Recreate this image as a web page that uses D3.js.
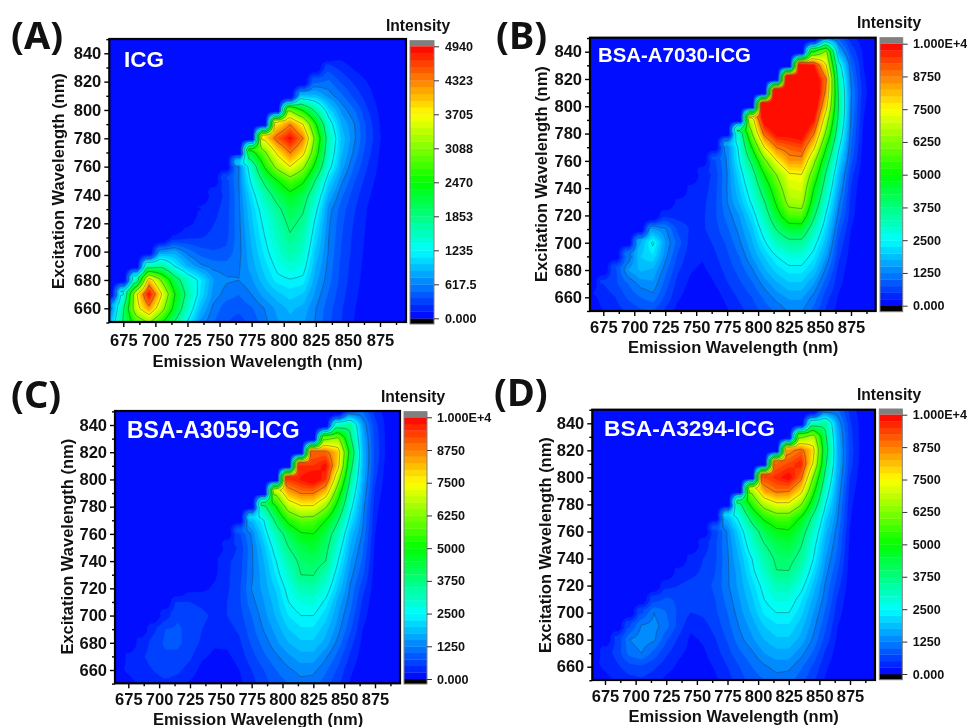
<!DOCTYPE html>
<html><head><meta charset="utf-8">
<script src="https://cdn.jsdelivr.net/npm/d3@7"></script>
<style>html,body{margin:0;background:#fff}svg{display:block;filter:blur(0.35px)}text{font-family:"Liberation Sans",Arial,sans-serif;font-weight:bold;fill:#111}</style>
</head><body><svg id="c" width="967" height="727"></svg>
<script>
// Emission columns run 665..895 by 10, excitation rows run 850 down to 650 by 10.
// Each row: first emission wavelength measured, then its intensities; the rest of the row reads 0.
const rowsA = [
[855,0],[845,40],
[835,300,200,100,40],
[825,450,520,350,220,120,40],
[815,900,900,680,520,330,180,60],
[805,3000,2400,1700,1050,700,500,260,90,20],
[795,3800,4300,3700,2500,1400,850,620,330,120,30],
[785,3800,4500,4900,4320,2900,1600,950,640,350,130,30],
[775,2300,3000,3800,4350,3850,2700,1500,900,580,300,110],
[765,600,1500,2500,3250,3700,3200,2300,1350,800,480,250,90],
[755,300,620,1300,1950,2450,2850,2550,1800,1050,650,380,190,70],
[745,150,280,600,1100,1600,2050,2350,2100,1500,850,520,300,150,50],
[735,120,200,300,590,1000,1400,1750,2100,1900,1300,680,430,260,120,40],
[725,90,160,240,310,580,950,1300,1600,1950,1750,1150,640,400,230,110,30],
[715,130,220,240,280,330,570,900,1220,1520,1800,1600,1050,620,380,210,100,30],
[705,700,800,560,420,380,400,570,850,1150,1420,1650,1480,950,600,360,200,90,25],
[695,1500,1700,1200,850,650,560,540,600,800,1050,1300,1450,1350,860,570,340,180,80,20],
[685,1400,4000,3000,2100,1500,1150,750,640,620,720,950,1170,1220,1180,780,540,320,170,70,15],
[675,1200,3600,4900,3700,2500,1700,1100,700,560,500,620,800,950,1050,980,700,480,290,150,60],
[665,550,1800,3500,4200,3300,2300,1500,900,580,420,400,480,620,780,900,820,620,420,260,130,50],
[665,900,1900,2700,3100,2500,1800,1200,700,500,380,320,400,580,720,820,760,600,400,250,120,40]
];
const rowsB = [
[855,1000,900,350,100],
[845,5000,6500,1700,700,200],
[835,10000,9800,7500,2800,1000,250],
[825,10500,10500,10500,8800,3300,1200,300],
[815,10500,10800,11000,10900,8500,3600,1300,350],
[805,10500,11000,11000,11000,10500,7800,3700,1250,300],
[795,7000,10200,10800,10800,10900,9800,6800,3500,1200,250],
[785,3000,6200,9000,10000,10000,10200,8800,6000,3100,1100,200],
[775,1300,2700,5000,7500,8800,9100,9300,7700,5000,2600,1000,150],
[765,700,1300,2500,4000,6000,7500,8500,8500,6500,4200,2200,850,100],
[755,300,600,1250,2200,3300,5000,6300,7400,7500,5700,3600,1850,600,50],
[745,250,350,650,1260,2000,2900,4300,5700,7000,7100,5000,3200,1600,480],
[735,250,350,420,680,1240,1800,2600,3700,5200,6600,6700,4500,2800,1350,400],
[725,400,380,400,450,700,1100,1500,2200,3200,4600,5700,5800,3900,2400,1150,350],
[715,1500,1300,700,480,450,650,950,1350,1900,2800,3800,4500,4500,3200,2100,900,250],
[705,1700,2600,1500,900,420,350,550,800,1200,1700,2400,3100,3500,3500,2700,1800,700,180],
[695,1000,2000,2200,1350,700,350,280,450,700,1000,1500,2000,2500,2800,2800,2300,1500,550,130],
[685,700,1500,1800,1700,1100,550,280,200,350,600,850,1200,1700,2100,2350,2350,1950,1150,400,100],
[675,500,700,1000,1350,1450,900,400,200,80,250,480,700,950,1350,1700,1950,1950,1500,850,320,70],
[665,150,350,500,800,1000,1150,700,300,120,50,120,330,550,750,1050,1350,1550,1550,1150,600,220,40],
[665,100,250,380,550,700,750,450,150,40,30,60,220,420,600,850,1050,1280,1280,900,450,150,20]
];
const rowsC = [
[855,700,1000,400,100],
[845,3000,3500,1500,600,150],
[835,6000,6500,3900,1700,650,150],
[825,9000,9000,8000,4600,1800,700,150],
[815,9500,9500,9900,7800,4100,1800,650,100],
[805,9500,9800,10200,9500,6600,3600,1700,550,80],
[795,6500,8300,8800,8800,8000,5500,3100,1550,450,50],
[785,3500,5000,6800,7400,7400,6400,4600,2700,1400,350],
[775,1800,2500,4000,5300,5900,5800,5000,3800,2300,1300,300],
[765,700,1300,2200,3200,4200,4900,5000,4300,3200,1900,1200,250],
[755,300,550,1200,1900,2800,3750,4300,4500,4000,2800,1700,1050,200],
[745,180,450,600,1200,1750,2500,3300,3950,4100,3750,2500,1500,950,150],
[735,120,200,450,650,1200,1650,2300,3000,3750,3780,3200,2200,1350,800,120],
[725,150,180,300,450,700,1260,1600,2050,2700,3200,3300,2800,1950,1200,600,100],
[715,500,500,450,400,500,700,1150,1500,1900,2500,2800,2850,2400,1650,1100,450,70],
[705,350,700,600,550,450,500,650,1000,1400,1800,2250,2500,2500,2100,1500,950,350,50],
[695,400,750,800,650,500,400,400,550,900,1280,1600,2000,2200,2200,1850,1350,800,250,30],
[685,300,600,800,800,650,450,300,300,450,800,1100,1450,1750,1950,1950,1650,1150,600,180,20],
[675,250,450,600,700,700,550,300,180,200,350,650,950,1200,1450,1650,1650,1300,900,450,120],
[665,150,300,400,500,600,550,400,150,50,100,250,500,750,1000,1200,1350,1320,1050,700,300,80],
[665,100,150,300,400,450,400,200,100,60,60,180,400,650,850,1000,1150,1120,850,550,220,50]
];
const rowsD = [
[855,700,1000,400,100],
[845,3000,3500,1500,550,120],
[835,6000,6800,3900,1700,600,120],
[825,8500,9000,7800,4200,1750,650,120],
[815,9000,9300,9700,7400,3900,1750,600,100],
[805,9300,9600,10000,9000,6200,3400,1600,500,70],
[795,6500,8400,8900,8800,7800,5300,2900,1500,400,40],
[785,3500,5300,6700,7300,7300,6300,4400,2500,1350,320],
[775,1800,2700,4100,5200,5700,5700,4900,3500,2100,1250,280],
[765,600,1300,2200,3200,4200,4800,4900,4200,3000,1850,1100,230],
[755,300,700,1250,1950,2900,3700,4200,4400,3800,2700,1650,1000,180],
[745,300,500,700,1200,1800,2500,3300,3900,4000,3500,2500,1500,900,150],
[735,300,400,550,750,1200,1650,2350,3000,3720,3720,3100,2200,1350,750,120],
[725,400,500,600,650,800,1200,1600,2100,2700,3150,3200,2700,1900,1200,600,100],
[715,600,800,700,650,600,750,1100,1500,1950,2500,2800,2800,2300,1700,1100,450,70],
[705,700,1250,1000,700,500,550,700,1000,1400,1800,2300,2500,2500,2100,1500,950,350,50],
[695,700,1300,1350,1100,650,300,400,600,900,1280,1600,2000,2200,2200,1850,1350,800,250,30],
[685,500,1250,1400,1300,800,450,200,280,480,780,1150,1450,1750,1950,1950,1650,1200,650,180,20],
[675,350,600,1100,1250,900,550,300,180,200,380,650,950,1200,1500,1650,1650,1350,950,450,120],
[665,150,300,450,650,700,550,350,200,150,150,280,500,750,1000,1200,1350,1320,1050,700,300,80],
[665,100,150,300,400,450,350,180,120,100,100,200,400,650,850,1000,1120,1100,850,550,220,50]
];
const emColumns = d3.range(665, 896, 10);
const exRows = d3.range(850, 649, -10);
const emTicks = [675,700,725,750,775,800,825,850,875];
const exTicks = [660,680,700,720,740,760,780,800,820,840];
const barLabelsA = ["0.000","617.5","1235","1853","2470","3088","3705","4323","4940"];
const barLabelsB = ["0.000","1250","2500","3750","5000","6250","7500","8750","1.000E+4"];
const panelNames = ["ICG","BSA-A7030-ICG","BSA-A3059-ICG","BSA-A3294-ICG"];
const panelTags = ["(A)","(B)","(C)","(D)"];
const scaleMaxima = [4940,10000,10000,10000];

// layout only
const layouts = [
 {rows:rowsA,labels:barLabelsA,l:109.3,r:406,t:39,b:322,x675:123.3,x875:380,y840:53.3,y660:308.3,
  bl:410,br:434,bt:40.7,bred:46.3,bk:318.3,bb:324,lx:445,ix:386,iy:31,xb:346,tb:367,tc:257.5,ytx:64,ytc:181,
  nameX:124,nameY:67,nameFs:22.5,tagX:11,tagY:49},
 {rows:rowsB,labels:barLabelsB,l:590,r:875.7,t:37.7,b:311,x675:603.3,x875:851,y840:51.7,y660:297.3,
  bl:880,br:902.7,bt:37.7,bred:43.7,bk:305.7,bb:311.7,lx:913,ix:857,iy:28,xb:333,tb:353,tc:733,ytx:547,ytc:174,
  nameX:598,nameY:62,nameFs:20.4,tagX:496,tagY:49},
 {rows:rowsC,labels:barLabelsB,l:115,r:400,t:411,b:683.3,x675:128.3,x875:375,y840:425,y660:670,
  bl:404,br:427,bt:411.7,bred:417.3,bk:679,bb:684,lx:437,ix:381,iy:402,xb:705,tb:725,tc:258,ytx:72.7,ytc:546.7,
  nameX:127,nameY:438,nameFs:23,tagX:11,tagY:408},
 {rows:rowsD,labels:barLabelsB,l:592.3,r:875,t:409.7,b:680,x675:605,x875:850,y840:423.3,y660:666.7,
  bl:879.3,br:902.3,bt:409,bred:414.7,bk:674,bb:679.7,lx:912.7,ix:857,iy:400,xb:702,tb:722,tc:733.7,ytx:550.7,ytc:545,
  nameX:604,nameY:436,nameFs:22.8,tagX:494,tagY:406}
];

const rainbow = d3.scaleLinear().domain([0,.25,.5,.75,1])
  .range(["#0000ff","#00ffff","#00ff00","#ffff00","#ff0000"]);
const BANDS = 40, MAJORS = 8;
const emMin = 663, emMax = 897, exMin = 649, exMax = 851, R = 3;
const nx = emMax-emMin+1, ny = exMax-exMin+1;

// the excitation-scatter cut: staircase ramp
const stepMask = (()=>{
  const inside = new Float64Array(nx*ny);
  for(let j=0;j<ny;j++)for(let i=0;i<nx;i++){
    const em=emMin+i, ex=exMin+j;
    const top=Math.floor((em-800)/10)*10+805;
    inside[i+j*nx]= ex<=top?1:0;
  }
  const out = new Float64Array(nx*ny);
  for(let j=0;j<ny;j++)for(let i=0;i<nx;i++){
    let s=0,c=0;
    for(let dj=-R;dj<=R;dj++)for(let di=-R;di<=R;di++){
      const a=i+di,b=j+dj; if(a<0||b<0||a>=nx||b>=ny){ s+= (emMin+i-exMin-j>5)?1:0; c++; continue;}
      s+=inside[a+b*nx]; c++;
    }
    out[i+j*nx]=s/c;
  }
  return out;
})();

function toGrid(rows){
  return rows.map(row=>{
    const start=row[0], vals=row.slice(1);
    return emColumns.map(e=>{
      const k=(e-start)/10;
      return k<0?vals[0]:(k<vals.length?vals[k]:0);
    });
  });
}
function fineField(rows){
  const g=toGrid(rows), out=new Float64Array(nx*ny);
  const nC=emColumns.length, nR=exRows.length;
  for(let j=0;j<ny;j++)for(let i=0;i<nx;i++){
    const u=Math.max(0,Math.min(nC-1.0001,(emMin+i-665)/10));
    const v=Math.max(0,Math.min(nR-1.0001,(850-(exMin+j))/10));
    const a=Math.floor(u), b=Math.floor(v), fu=u-a, fv=v-b;
    const val=g[b][a]*(1-fu)*(1-fv)+g[b][a+1]*fu*(1-fv)+g[b+1][a]*(1-fu)*fv+g[b+1][a+1]*fu*fv;
    out[i+j*nx]=val*stepMask[i+j*nx];
  }
  return out;
}

const svg=d3.select("#c");
const FS=16.5, BFS=12.6;
layouts.forEach((L,idx)=>{
  const max=scaleMaxima[idx];
  const x=d3.scaleLinear().domain([675,875]).range([L.x675,L.x875]);
  const y=d3.scaleLinear().domain([660,840]).range([L.y660,L.y840]);
  const g=svg.append("g");
  const clipId="clip"+idx;
  g.append("clipPath").attr("id",clipId).append("rect")
    .attr("x",L.l).attr("y",L.t).attr("width",L.r-L.l).attr("height",L.b-L.t);
  const plot=g.append("g").attr("clip-path",`url(#${clipId})`);
  plot.append("rect").attr("x",L.l).attr("y",L.t).attr("width",L.r-L.l).attr("height",L.b-L.t)
    .attr("fill",rainbow(0.5/BANDS));
  const field=fineField(L.rows);
  const path=d3.geoPath(d3.geoTransform({point(px,py){
    this.stream.point(x(emMin+px-0.5),y(exMin+py-0.5));
  }}));
  const bandThresholds=d3.range(1,BANDS).map(k=>k*max/BANDS);
  const contours=d3.contours().size([nx,ny]).thresholds(bandThresholds)(field);
  plot.selectAll("path.band").data(contours).join("path").attr("class","band")
    .attr("d",path)
    .attr("fill",d=>rainbow((d.value/max)+0.5/BANDS))
    .attr("stroke",d=>rainbow((d.value/max)+0.5/BANDS)).attr("stroke-width",0.2);
  const lineThresholds=d3.range(1,MAJORS).map(k=>k*max/MAJORS);
  const lines=d3.contours().size([nx,ny]).thresholds(lineThresholds)(field);
  plot.selectAll("path.line").data(lines).join("path").attr("class","line")
    .attr("d",path).attr("fill","none").attr("stroke","#2a3a3a").attr("stroke-opacity",0.6).attr("stroke-width",0.7);

  // frame
  g.append("rect").attr("x",L.l).attr("y",L.t).attr("width",L.r-L.l).attr("height",L.b-L.t)
    .attr("fill","none").attr("stroke","#000").attr("stroke-width",2.2);
  // x axis
  const pad=L.xb-L.b-5-0.71*FS;
  const ax=g.append("g").attr("transform",`translate(0,${L.b})`)
    .call(d3.axisBottom(x).tickValues(emTicks).tickSize(5).tickPadding(pad).tickFormat(d3.format("d")));
  const minorX=d3.range(668,896,0).length;
  g.append("g").attr("transform",`translate(0,${L.b})`)
    .call(d3.axisBottom(x).tickValues(d3.range(687.5,895,25)).tickSize(3).tickFormat(""));
  const ay=g.append("g").attr("transform",`translate(${L.l},0)`)
    .call(d3.axisLeft(y).tickValues(exTicks).tickSize(5).tickPadding(3).tickFormat(d3.format("d")));
  g.append("g").attr("transform",`translate(${L.l},0)`)
    .call(d3.axisLeft(y).tickValues(d3.range(650,851,20)).tickSize(3).tickFormat(""));
  g.selectAll(".domain").remove();
  g.selectAll(".tick line").attr("stroke","#000").attr("stroke-width",1.4);
  g.selectAll(".tick text").attr("font-size",FS).attr("fill","#111");
  // titles
  g.append("text").attr("x",L.tc).attr("y",L.tb).attr("text-anchor","middle").attr("font-size",FS).text("Emission Wavelength (nm)");
  g.append("text").attr("transform",`translate(${L.ytx},${L.ytc}) rotate(-90)`).attr("text-anchor","middle").attr("font-size",FS).text("Excitation Wavelength (nm)");
  g.append("text").attr("x",L.nameX).attr("y",L.nameY).attr("font-size",L.nameFs).style("fill","#fff").text(panelNames[idx]);
  g.append("text").attr("x",L.tagX).attr("y",L.tagY).attr("font-size",38).style("font-family","'Noto Sans'").text(panelTags[idx]);
  // colour bar
  const c=d3.scaleLinear().domain([0,max]).range([L.bk,L.bred]);
  g.append("rect").attr("x",L.bl).attr("y",L.bt).attr("width",L.br-L.bl).attr("height",L.bred-L.bt).attr("fill","#808080");
  g.append("rect").attr("x",L.bl).attr("y",L.bk).attr("width",L.br-L.bl).attr("height",L.bb-L.bk).attr("fill","#000");
  g.selectAll("rect.cb").data(d3.range(BANDS)).join("rect").attr("class","cb")
    .attr("x",L.bl).attr("width",L.br-L.bl)
    .attr("y",k=>c((k+1)*max/BANDS)).attr("height",k=>c(k*max/BANDS)-c((k+1)*max/BANDS)+0.3)
    .attr("fill",k=>rainbow((k+0.5)/BANDS));
  g.append("rect").attr("x",L.bl).attr("y",L.bt).attr("width",L.br-L.bl).attr("height",L.bb-L.bt)
    .attr("fill","none").attr("stroke","#808080").attr("stroke-width",1);
  const barTicks=L.labels.map((t,k)=>k*max/MAJORS);
  const ab=g.append("g").attr("transform",`translate(${L.br},0)`)
    .call(d3.axisRight(c).tickValues(barTicks).tickSize(5).tickPadding(L.lx-L.br-5).tickFormat((d,k)=>L.labels[k]));
  ab.select(".domain").remove();
  ab.selectAll(".tick line").attr("stroke","#333").attr("stroke-width",1);
  ab.selectAll(".tick text").attr("font-size",BFS).attr("fill","#111");
  g.append("text").attr("x",L.ix).attr("y",L.iy).attr("font-size",15.6).text("Intensity");
});
</script></body></html>
